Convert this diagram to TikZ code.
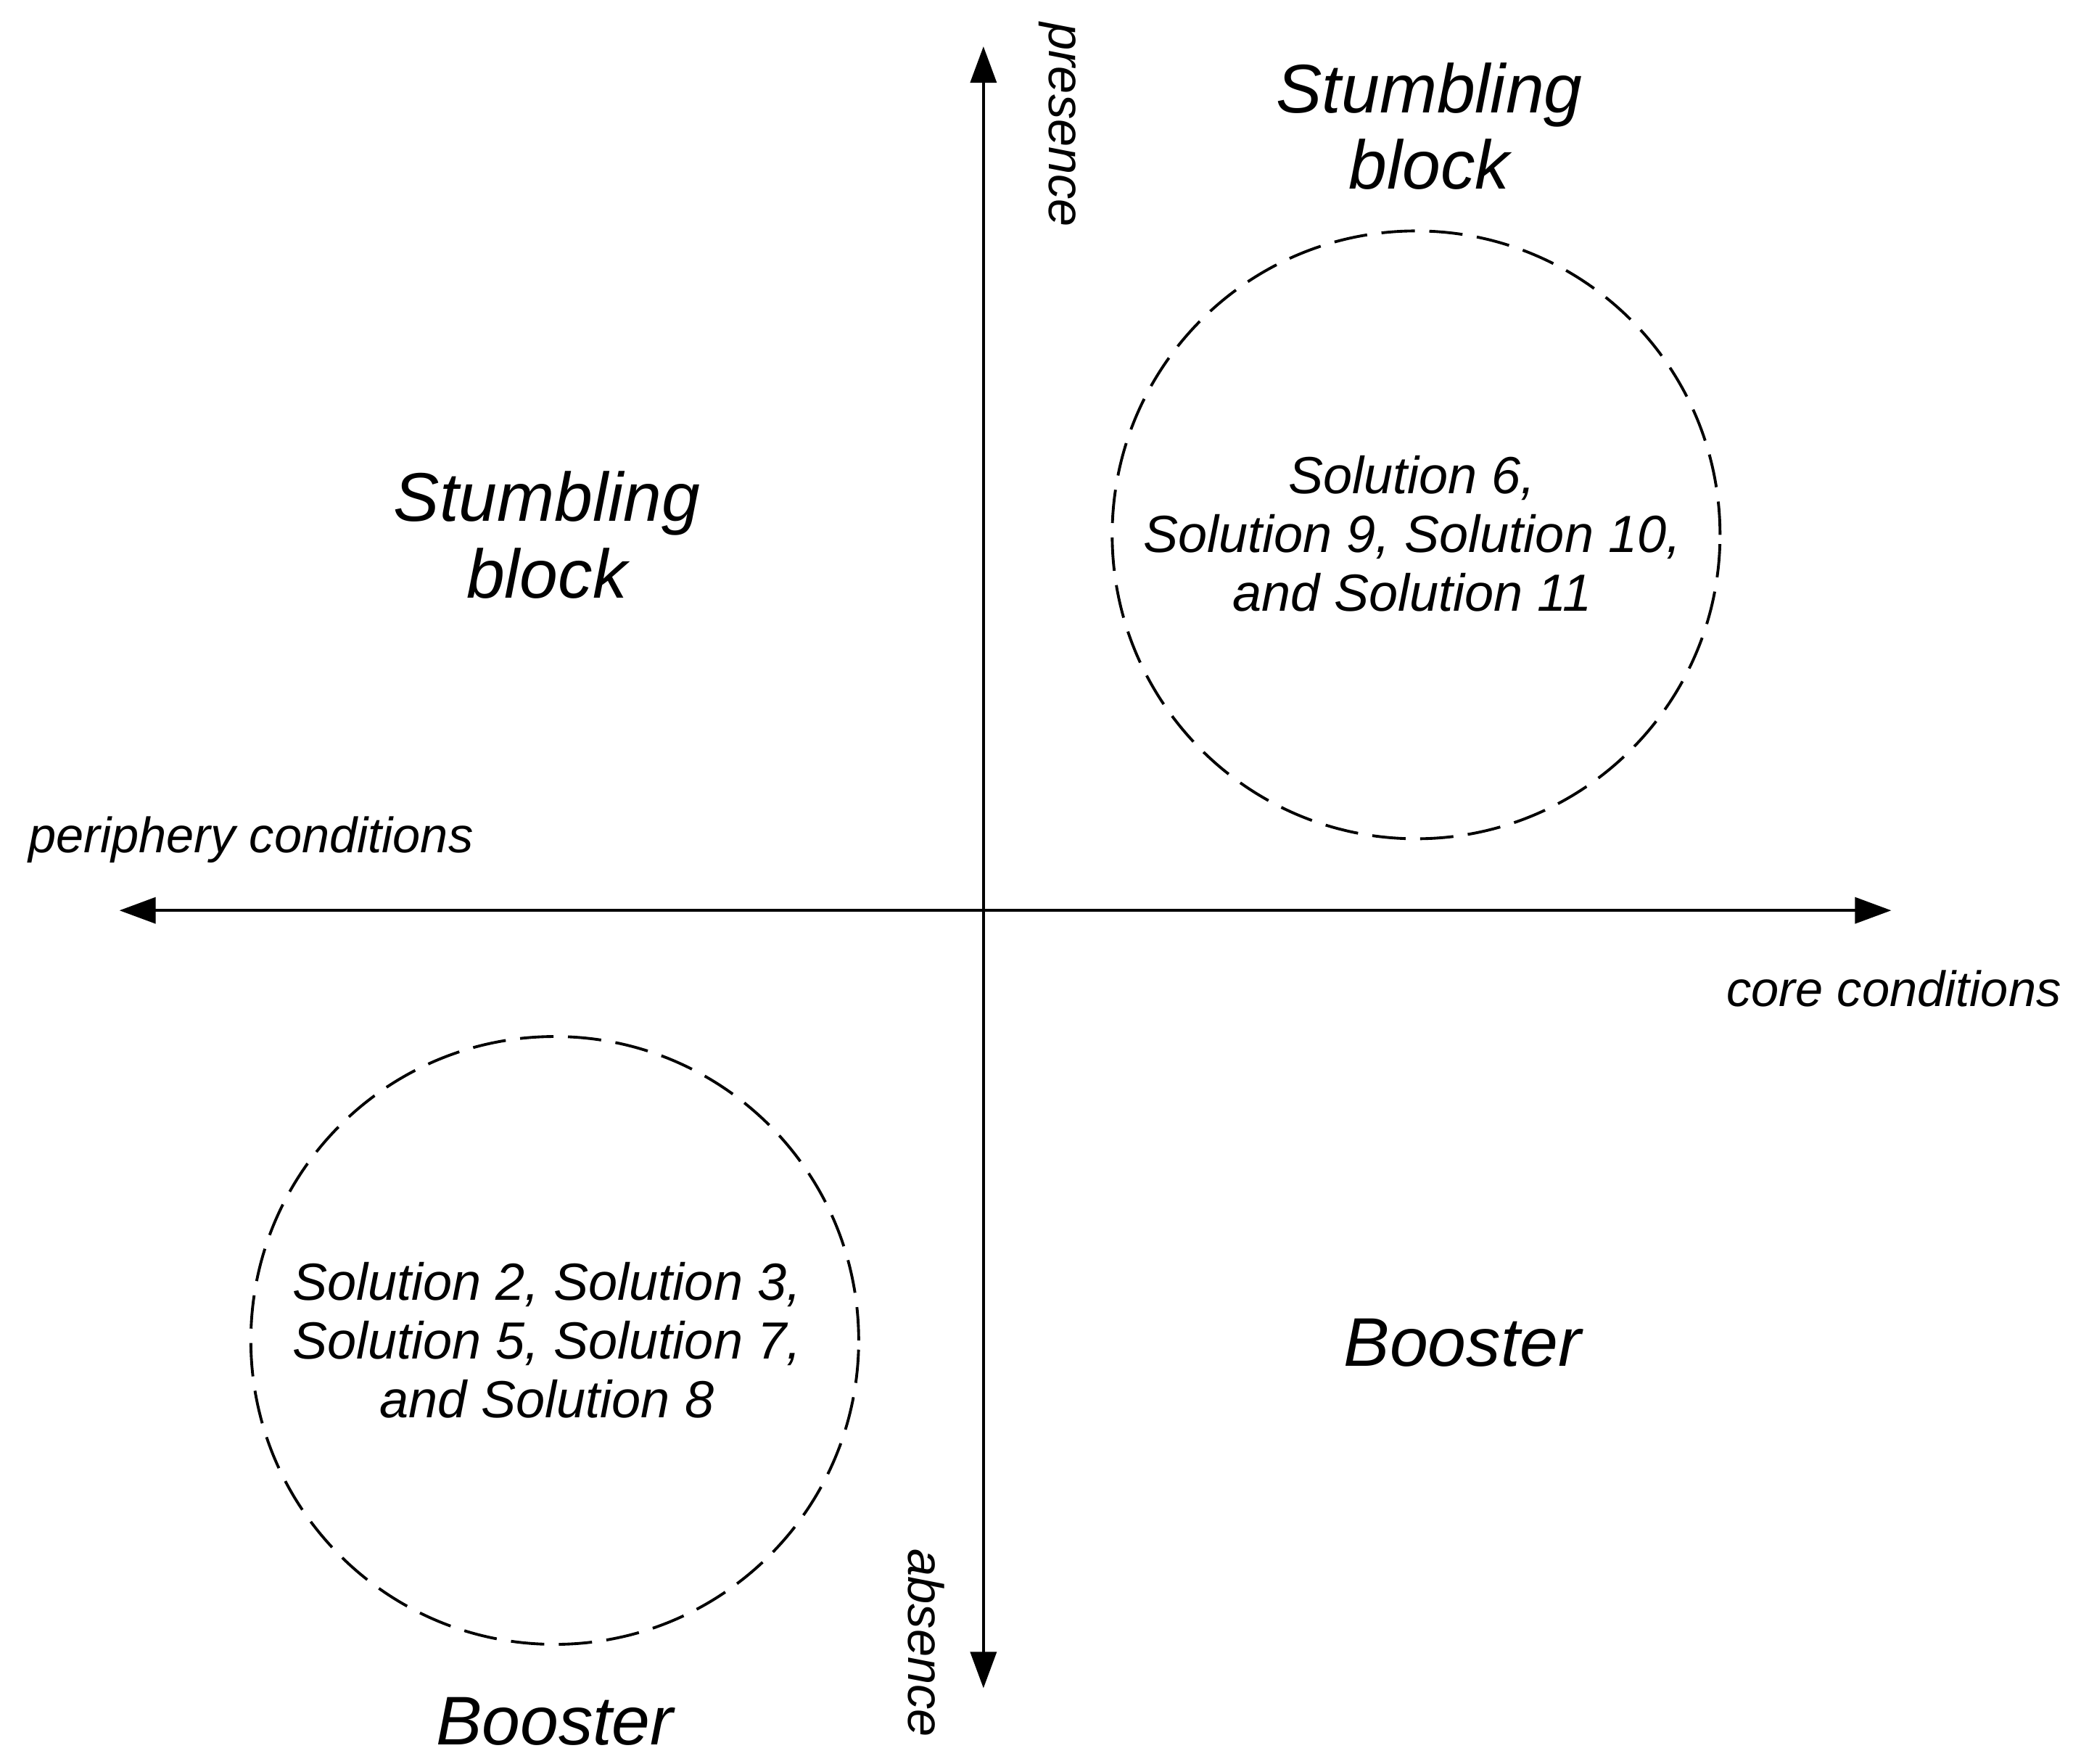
\documentclass[tikz,border=0pt]{standalone}
\usepackage{fontspec}
\setmainfont{Liberation Sans}
\usetikzlibrary{arrows.meta}
\begin{document}
\begin{tikzpicture}[x=0.0183cm,y=-0.0183cm,
  axis/.style={line width=1pt,{Triangle[length=0.5cm,width=0.36cm]}-{Triangle[length=0.5cm,width=0.36cm]}},
  ring/.style={circle,draw,line width=1.1pt,dash pattern=on 0.46cm off 0.2cm,minimum size=458*0.0183cm,inner sep=0pt},
  big/.style={font=\itshape\fontsize{27}{30}\selectfont,align=center},
  sol/.style={font=\itshape\fontsize{20.5}{23}\selectfont,align=center},
  lab/.style={font=\itshape\fontsize{19.5}{20}\selectfont}]
\useasboundingbox (0,0) rectangle (1568,1329);
\coordinate (top) at (741,35);
\coordinate (bot) at (741,1272);
\coordinate (left) at (90,686);
\coordinate (right) at (1425,686);
\draw[axis] (bot) -- (top);
\draw[axis] (left) -- (right);
\node[lab,rotate=-90] (pres) at (797,94) {presence};
\node[lab,rotate=-90] (abs) at (698,1238) {absence};
\node[lab] (peri) at (189,633) {periphery conditions};
\node[lab] (core) at (1427,745) {core conditions};
\node[big] (sb1) at (1077,95) {Stumbling\\block};
\node[big] (sb2) at (412,403) {Stumbling\\block};
\node[big] (b1) at (1102,1012) {Booster};
\node[big] (b2) at (418,1297) {Booster};
\node[ring] (c1) at (1067,403) {};
\node[ring] (c2) at (418,1010) {};
\node[sol] (t1) at (1064,402) {Solution 6,\\Solution 9, Solution 10,\\and Solution 11};
\node[sol] (t2) at (412,1010) {Solution 2, Solution 3,\\Solution 5, Solution 7,\\and Solution 8};
\end{tikzpicture}
\end{document}
